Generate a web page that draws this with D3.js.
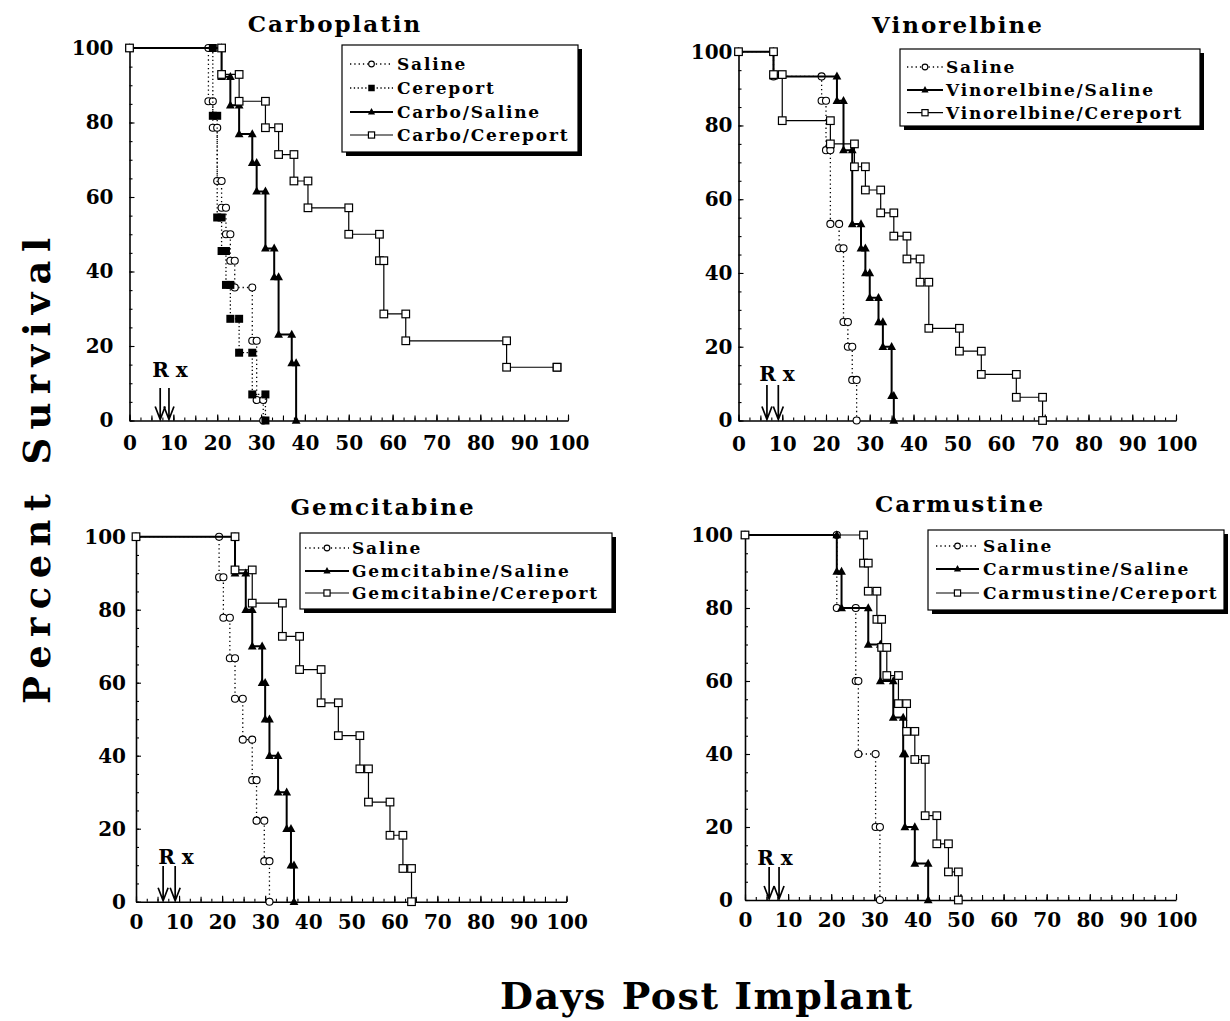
<!DOCTYPE html>
<html><head><meta charset="utf-8">
<script src="https://cdn.jsdelivr.net/npm/d3@7"></script>
<style>
body{margin:0;background:#fff}
svg{display:block}
text{font-family:"DejaVu Serif",serif;font-weight:bold;fill:#000}
</style>
</head><body>
<svg id="c" width="1230" height="1021"></svg>
<script>
// ---------------- data ----------------
const titles = ["Carboplatin", "Vinorelbine", "Gemcitabine", "Carmustine"];
const xTicks = [0, 10, 20, 30, 40, 50, 60, 70, 80, 90, 100];
const yTicks = [0, 20, 40, 60, 80, 100];
const yAxisTitle = "Percent Survival";
const xAxisTitle = "Days Post Implant";
const rxLabel = "R x";

const legend1 = ["Saline", "Cereport", "Carbo/Saline", "Carbo/Cereport"];
const legend2 = ["Saline", "Vinorelbine/Saline", "Vinorelbine/Cereport"];
const legend3 = ["Saline", "Gemcitabine/Saline", "Gemcitabine/Cereport"];
const legend4 = ["Saline", "Carmustine/Saline", "Carmustine/Cereport"];

// [day, percent survival] at each step
const carbSaline = [[0,100],[18,85.7],[19,78.6],[20,64.3],[21,57.1],[22,50],[23,42.9],[24,35.7],[28,21.4],[29,5.5],[30.5,0]];
const carbCereport = [[0,100],[19,81.8],[20,54.5],[21,45.5],[22,36.4],[23,27.3],[25,18.2],[28,7],[31,0]];
const carbDrugSaline = [[0,100],[21,92.3],[23,84.6],[25,76.9],[28,69.2],[29,61.5],[31,46.2],[33,38.5],[34,23.1],[37,15.4],[38,0]];
const carbDrugCereport = [[0,100],[21,92.9],[25,85.7],[31,78.6],[34,71.4],[37.5,64.3],[40.7,57.1],[50,50],[57,42.9],[58,28.6],[63,21.4],[86,14.3],[97.5,14.3]];

const vinSaline = [[0,100],[8,93.3],[19,86.7],[20,73.3],[21,53.3],[23,46.7],[24,26.7],[25,20],[26,11],[27,0]];
const vinDrugSaline = [[0,100],[8,93.3],[22.5,86.7],[24,73.3],[26,53.3],[28,46.7],[29,40],[30,33.3],[32,26.7],[33,20],[35,6.7],[35.5,0]];
const vinDrugCereport = [[0,100],[8,93.8],[10,81.3],[21,75],[26.5,68.8],[29,62.5],[32.5,56.3],[35.5,50],[38.5,43.8],[41.5,37.5],[43.5,25],[50.5,18.8],[55.5,12.5],[63.5,6.3],[69.5,0]];

const gemSaline = [[0,100],[19.3,88.9],[20.3,77.8],[21.8,66.7],[23,55.6],[24.8,44.4],[27,33.3],[28,22.2],[29.8,11.1],[31,0]];
const gemDrugSaline = [[0,100],[23,90],[25.5,80],[27,70],[29.3,60],[30,50],[31,40],[33,30],[35,20],[36,10],[36.7,0]];
const gemDrugCereport = [[0,100],[23,90.9],[27,81.8],[34,72.7],[38,63.6],[43,54.5],[47,45.5],[52,36.4],[54,27.3],[59,18.2],[62,9.1],[64,0]];

const carmSaline = [[0,100],[21.3,80],[25.7,60],[26.3,40],[30.3,20],[31.3,0]];
const carmDrugSaline = [[0,100],[21.3,90],[22.4,80],[28.6,70],[31.4,60],[34.4,50],[36.7,40],[37.1,20],[39.4,10],[42.5,0]];
const carmDrugCereport = [[0,100],[27.5,92.3],[28.6,84.6],[30.6,76.9],[31.7,69.2],[32.9,61.5],[35.6,53.8],[37.5,46.2],[39.4,38.5],[41.8,23.1],[44.5,15.4],[47.2,7.7],[49.5,0]];

const rxDays1 = [7, 9];
const rxDays2 = [6.5, 9.1];
const rxDays3 = [6.3, 9.1];
const rxDays4 = [5.6, 7.9];

// ---------------- styles ----------------
const styles = {
  saline:       {marker:"circle",  dash:"1.3,3", width:1.3},
  cereport:     {marker:"fsquare", dash:"1.3,2.5", width:1.3},
  drugSaline:   {marker:"triangle",dash:null, width:2},
  drugCereport: {marker:"square",  dash:null, width:1.2}
};

const panels = [
  {title:titles[0], tx:335, ty:32, xl:129.5, xr:568, yt:48, yb:420.5, ypad:16, xpad:15,
   series:[[carbSaline,"saline"],[carbCereport,"cereport"],[carbDrugSaline,"drugSaline"],[carbDrugCereport,"drugCereport"]],
   legend:legend1, lbox:[342,45,578,152], lline:[350,393], ltext:397, lrows:[64,88,112,135],
   rx:rxDays1, rxTop:388, rxText:[170,377]},
  {title:titles[1], tx:958, ty:33, xl:738.5, xr:1176, yt:51.7, yb:420.5, ypad:6, xpad:16,
   series:[[vinSaline,"saline"],[vinDrugSaline,"drugSaline"],[vinDrugCereport,"drugCereport"]],
   legend:legend2, lbox:[900,49,1200,126], lline:[907,943], ltext:946, lrows:[67,90,112.7],
   rx:rxDays2, rxTop:385, rxText:[777,381]},
  {title:titles[2], tx:383, ty:515, xl:136, xr:566.5, yt:536.7, yb:901.7, ypad:10, xpad:13,
   series:[[gemSaline,"saline"],[gemDrugSaline,"drugSaline"],[gemDrugCereport,"drugCereport"]],
   legend:legend3, lbox:[300,533,612,609], lline:[305,349], ltext:352, lrows:[548,571,593],
   rx:rxDays3, rxTop:866, rxText:[176,864]},
  {title:titles[3], tx:960, ty:512, xl:745, xr:1176, yt:535, yb:900, ypad:12, xpad:13,
   series:[[carmSaline,"saline"],[carmDrugSaline,"drugSaline"],[carmDrugCereport,"drugCereport"]],
   legend:legend4, lbox:[928,530,1224,610], lline:[936,979], ltext:983, lrows:[546,569,593],
   rx:rxDays4, rxTop:867, rxText:[775,865]}
];

const svg = d3.select("#c");

function drawMarker(g, type, cx, cy, s) {
  if (type === "circle") {
    g.append("circle").attr("cx",cx).attr("cy",cy).attr("r",s*0.44)
      .attr("fill","#fff").attr("stroke","#000").attr("stroke-width",1.1);
  } else if (type === "fsquare") {
    g.append("rect").attr("x",cx-s/2).attr("y",cy-s/2).attr("width",s).attr("height",s)
      .attr("fill","#000");
  } else if (type === "square") {
    const q = s*0.95;
    g.append("rect").attr("x",cx-q/2).attr("y",cy-q/2).attr("width",q).attr("height",q)
      .attr("fill","#fff").attr("stroke","#000").attr("stroke-width",1.2);
  } else if (type === "triangle") {
    const w = s*1.1, h = s;
    g.append("path").attr("d",`M${cx},${cy-h*0.6}L${cx+w/2},${cy+h*0.4}L${cx-w/2},${cy+h*0.4}Z`)
      .attr("fill","#000");
  }
}

function drawPanel(p) {
  const x = d3.scaleLinear().domain([0,100]).range([p.xl, p.xr]);
  const y = d3.scaleLinear().domain([0,100]).range([p.yb, p.yt]);
  const g = svg.append("g");

  // title
  g.append("text").attr("x",p.tx).attr("y",p.ty).attr("text-anchor","middle")
    .style("font-size","23px").style("letter-spacing","2px").text(p.title);

  // x axis: minor, mid, major
  const xa = g.append("g").attr("transform",`translate(0,${p.yb})`);
  xa.append("g").call(d3.axisBottom(x).tickValues(d3.range(0,100.01,2.5)).tickSize(-3).tickFormat(""))
    .call(a=>a.select(".domain").remove());
  xa.append("g").call(d3.axisBottom(x).tickValues(d3.range(0,100.01,5)).tickSize(-5).tickFormat(""))
    .call(a=>a.select(".domain").remove());
  xa.append("g").call(d3.axisBottom(x).tickValues(xTicks).tickSize(-6).tickSizeOuter(0).tickPadding(p.xpad))
    .call(a=>a.select(".domain").attr("stroke-width",1.6))
    .call(a=>a.selectAll("text").style("font-size","20px").attr("font-family",null).attr("font-size",null));
  xa.selectAll(".tick line").attr("stroke-width",1.1);

  // y axis
  const ya = g.append("g").attr("transform",`translate(${p.xl},0)`);
  ya.append("g").call(d3.axisLeft(y).tickValues(d3.range(0,100.01,5)).tickSize(-3).tickFormat(""))
    .call(a=>a.select(".domain").remove());
  ya.append("g").call(d3.axisLeft(y).tickValues(yTicks).tickSize(-5).tickSizeOuter(0).tickPadding(p.ypad))
    .call(a=>a.select(".domain").attr("stroke-width",1.6))
    .call(a=>a.selectAll("text").style("font-size","20px").attr("font-family",null).attr("font-size",null));
  ya.selectAll(".tick line").attr("stroke-width",1.1);

  // series
  const line = d3.line().x(d=>x(d[0])).y(d=>y(d[1])).curve(d3.curveStepAfter);
  p.series.forEach(([data, kind]) => {
    const st = styles[kind];
    const sg = g.append("g");
    sg.append("path").datum(data).attr("d",line).attr("fill","none").attr("stroke","#000")
      .attr("stroke-width",st.width).attr("stroke-dasharray",st.dash);
    const verts = [];
    data.forEach((d,i) => {
      verts.push([d[0], d[1]]);
      if (i < data.length-1) verts.push([data[i+1][0], d[1]]);
    });
    verts.forEach(v => drawMarker(sg, st.marker, x(v[0]), y(v[1]), 8));
  });

  // legend
  const [bx0,by0,bx1,by1] = p.lbox;
  const lg = g.append("g");
  lg.append("rect").attr("x",bx0+4).attr("y",by0+4).attr("width",bx1-bx0).attr("height",by1-by0).attr("fill","#000");
  lg.append("rect").attr("x",bx0).attr("y",by0).attr("width",bx1-bx0).attr("height",by1-by0)
    .attr("fill","#fff").attr("stroke","#000").attr("stroke-width",1.2);
  p.legend.forEach((lab,i) => {
    const kind = p.series[i][1], st = styles[kind], ry = p.lrows[i];
    lg.append("line").attr("x1",p.lline[0]).attr("x2",p.lline[1]).attr("y1",ry).attr("y2",ry)
      .attr("stroke","#000").attr("stroke-width",st.width).attr("stroke-dasharray",st.dash);
    drawMarker(lg, st.marker, (p.lline[0]+p.lline[1])/2, ry, 6.5);
    lg.append("text").attr("x",p.ltext).attr("y",ry+6).style("font-size","17px")
      .style("letter-spacing","1.8px").text(lab);
  });

  // Rx
  g.append("text").attr("x",p.rxText[0]).attr("y",p.rxText[1]).attr("text-anchor","middle")
    .style("font-size","20px").text(rxLabel);
  p.rx.forEach(dd => {
    const ax = x(dd), bot = p.yb - 1;
    g.append("path").attr("d",`M${ax},${p.rxTop}L${ax},${bot}M${ax-5},${bot-13}L${ax},${bot}L${ax+5},${bot-13}`)
      .attr("fill","none").attr("stroke","#000").attr("stroke-width",1.7);
  });
}

panels.forEach(drawPanel);

// axis titles
svg.append("text").attr("transform","translate(50,471) rotate(-90)").attr("text-anchor","middle")
  .style("font-size","37px").attr("textLength",466).attr("lengthAdjust","spacing").text(yAxisTitle);
svg.append("text").attr("x",706).attr("y",1009).attr("text-anchor","middle")
  .style("font-size","38px").attr("textLength",412).attr("lengthAdjust","spacing").text(xAxisTitle);
</script>
</body></html>
